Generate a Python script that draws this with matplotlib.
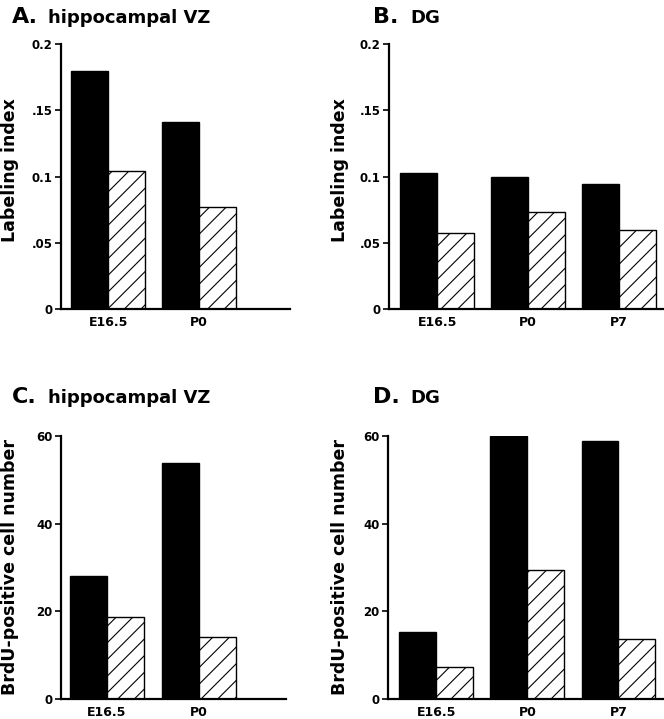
import numpy as np
import matplotlib
matplotlib.use('Agg')
import matplotlib.pyplot as plt

# values
groups_vz = ['E16.5', 'P0']
groups_dg = ['E16.5', 'P0', 'P7']

li_vz_black = [0.180, 0.141]
li_vz_hatch = [0.104, 0.077]
li_dg_black = [0.103, 0.100, 0.094]
li_dg_hatch = [0.057, 0.073, 0.060]

n_vz_black = [28.0, 53.9]
n_vz_hatch = [18.6, 14.1]
n_dg_black = [15.3, 60.0, 58.8]
n_dg_hatch = [7.2, 29.4, 13.8]

li_ticks = [0, 0.05, 0.1, 0.15, 0.2]
li_ticklabels = ['0', '.05', '0.1', '.15', '0.2']
n_ticks = [0, 20, 40, 60]
n_ticklabels = ['0', '20', '40', '60']

plt.rcParams['font.family'] = ['DejaVu Sans']
plt.rcParams['font.weight'] = 'bold'
plt.rcParams['hatch.linewidth'] = 0.8

W, H = 664, 719
fig = plt.figure(figsize=(W / 100, H / 100), dpi=100)


def px_axes(left, top, right, bottom):
    # axes rectangle from pixel coordinates (origin top-left)
    return fig.add_axes([left / W, 1 - bottom / H, (right - left) / W, (bottom - top) / H])


def draw_panel(ax, groups, black, hatch, ymax, ticks, ticklabels, xlim):
    x = np.arange(len(groups))
    w = 0.405
    ax.bar(x - w / 2, black, width=w, color='black', edgecolor='black', linewidth=1)
    ax.bar(x + w / 2, hatch, width=w, color='white', edgecolor='black', linewidth=1, hatch='//')
    ax.set_xlim(*xlim)
    ax.set_ylim(0, ymax)
    ax.set_xticks(x)
    ax.set_xticklabels(groups, fontsize=9, fontweight='bold')
    ax.set_yticks(ticks)
    ax.set_yticklabels(ticklabels, fontsize=8.5, fontweight='bold')
    ax.tick_params(axis='x', length=0, pad=5)
    ax.tick_params(axis='y', length=4, width=1.2, pad=2, direction='out')
    for s in ['top', 'right']:
        ax.spines[s].set_visible(False)
    for s in ['left', 'bottom']:
        ax.spines[s].set_linewidth(1.6)


axA = px_axes(61, 44, 290, 309)
draw_panel(axA, groups_vz, li_vz_black, li_vz_hatch, 0.2, li_ticks, li_ticklabels, (-0.52, 2.0))

axB = px_axes(389, 44, 663, 309)
draw_panel(axB, groups_dg, li_dg_black, li_dg_hatch, 0.2, li_ticks, li_ticklabels, (-0.53, 2.48))

axC = px_axes(61, 436, 286, 699)
draw_panel(axC, groups_vz, n_vz_black, n_vz_hatch, 60, n_ticks, n_ticklabels, (-0.5, 1.95))

axD = px_axes(388, 436, 663, 699)
draw_panel(axD, groups_dg, n_dg_black, n_dg_hatch, 60, n_ticks, n_ticklabels, (-0.53, 2.49))


def fig_text(xp, yp, s, **kw):
    fig.text(xp / W, 1 - yp / H, s, fontweight='bold', **kw)


# panel titles
fig_text(12, 23, 'A.', fontsize=16, va='baseline')
fig_text(48, 23, 'hippocampal VZ', fontsize=13, va='baseline')
fig_text(373, 23, 'B.', fontsize=16, va='baseline')
fig_text(410, 23, 'DG', fontsize=13, va='baseline')
fig_text(12, 403, 'C.', fontsize=16, va='baseline')
fig_text(48, 403, 'hippocampal VZ', fontsize=13, va='baseline')
fig_text(373, 403, 'D.', fontsize=16, va='baseline')
fig_text(410, 403, 'DG', fontsize=13, va='baseline')

# y axis labels
fig_text(10, 170, 'Labeling index', fontsize=12.5, rotation=90, ha='center', va='center')
fig_text(340, 170, 'Labeling index', fontsize=12.5, rotation=90, ha='center', va='center')
fig_text(10, 567, 'BrdU-positive cell number', fontsize=12.5, rotation=90, ha='center', va='center')
fig_text(340, 567, 'BrdU-positive cell number', fontsize=12.5, rotation=90, ha='center', va='center')

fig.savefig('out.png', dpi=100)
